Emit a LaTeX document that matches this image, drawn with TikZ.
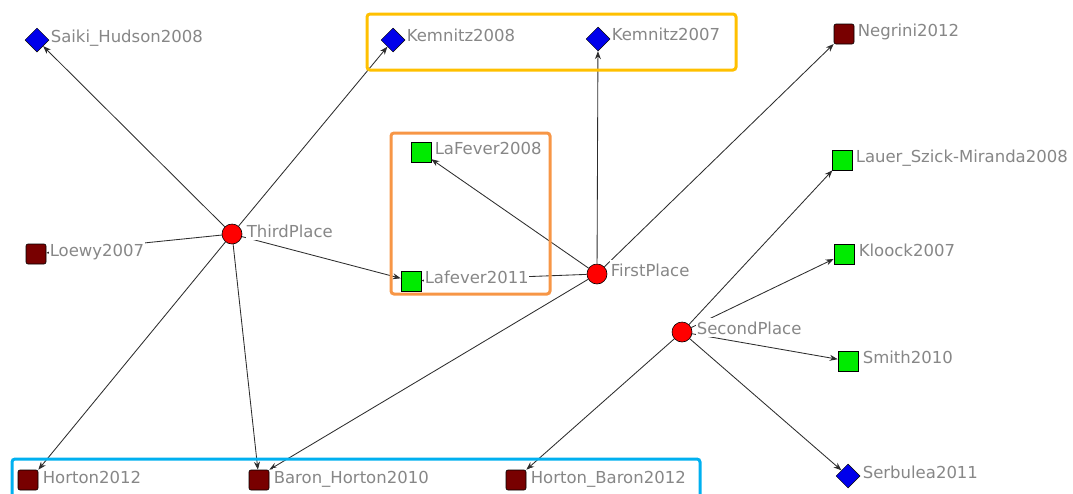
\documentclass[tikz,border=0pt]{standalone}
\usepackage{fontspec}
\setmainfont{DejaVu Sans}
\usetikzlibrary{shapes.geometric,arrows.meta}
\definecolor{lblgray}{RGB}{135,135,135}
\definecolor{dred}{RGB}{120,0,0}
\definecolor{ngreen}{RGB}{0,235,0}
\definecolor{nblue}{RGB}{0,0,235}
\definecolor{nred}{RGB}{255,0,0}
\definecolor{boxY}{RGB}{255,192,0}
\definecolor{boxO}{RGB}{247,150,70}
\definecolor{boxB}{RGB}{0,176,240}
\definecolor{edgec}{RGB}{45,45,45}
\begin{document}
\begin{tikzpicture}[x=1pt,y=-1pt,
 dia/.style={diamond,draw=black,fill=nblue,minimum size=24pt,inner sep=0pt,line width=0.5pt},
 gsq/.style={rectangle,draw=black,fill=ngreen,minimum size=20pt,inner sep=0pt,line width=0.6pt},
 rsq/.style={rectangle,draw=black,fill=dred,minimum size=20pt,inner sep=0pt,rounded corners=2pt,line width=0.6pt},
 hub/.style={circle,draw=black,fill=nred,minimum size=20pt,inner sep=0pt,line width=0.6pt},
 lbl/.style={anchor=base west,fill=white,inner xsep=0.6pt,inner ysep=3pt,text=lblgray,font=\fontsize{16.5}{18}\selectfont},
 edge/.style={draw=edgec,line width=0.85pt,-{Stealth[length=8pt,width=6pt]}},
 hl/.style={line width=3pt,rounded corners=3pt}]
\useasboundingbox (0,0) rectangle (1073,493);
\clip (0,0) rectangle (1073,493);
% shape nodes
\node[dia] (saiki) at (37,40) {};
\node[dia] (kem8) at (393,40) {};
\node[dia] (kem7) at (598,39) {};
\node[rsq] (negrini) at (844,34) {};
\node[gsq] (lafe8) at (421,152) {};
\node[gsq] (lafe11) at (411,281) {};
\node[hub] (third) at (232,234) {};
\node[rsq] (loewy) at (36,254) {};
\node[hub] (first) at (597,274) {};
\node[gsq] (lauer) at (842,160) {};
\node[gsq] (klock) at (844,254) {};
\node[hub] (second) at (682,332) {};
\node[gsq] (smith) at (848,361) {};
\node[dia] (serb) at (848,476) {};
\node[rsq] (horton12) at (28,480) {};
\node[rsq] (baron10) at (259,480) {};
\node[rsq] (hortonb12) at (516,480) {};
% edges
\draw[edge] (third) -- (saiki);
\draw[edge] (third) -- (kem8);
\draw[edge] (third) -- (loewy);
\draw[edge] (third) -- (lafe11);
\draw[edge] (third) -- (baron10);
\draw[edge] (third) -- (horton12.north east);
\draw[edge] (first) -- (kem7);
\draw[edge] (first) -- (lafe8);
\draw[edge] (first) -- (lafe11);
\draw[edge] (first) -- (negrini);
\draw[edge] (first) -- (baron10.north east);
\draw[edge] (second) -- (lauer);
\draw[edge] (second) -- (klock);
\draw[edge] (second) -- (smith);
\draw[edge] (second) -- (serb);
\draw[edge] (second) -- (hortonb12.north east);
% labels
\node[lbl] (tsaiki) at (50,42) {Saiki\_Hudson2008};
\node[lbl] (tkem8) at (406,41) {Kemnitz2008};
\node[lbl] (tkem7) at (611,40) {Kemnitz2007};
\node[lbl] (tnegrini) at (857,36) {Negrini2012};
\node[lbl] (tlafe8) at (434,154) {LaFever2008};
\node[lbl] (tlafe11) at (424,283) {Lafever2011};
\node[lbl] (tthird) at (246,237) {ThirdPlace};
\node[lbl] (tloewy) at (49,256) {Loewy2007};
\node[lbl] (tfirst) at (610,276) {FirstPlace};
\node[lbl] (tlauer) at (855,162) {Lauer\_Szick-Miranda2008};
\node[lbl] (tklock) at (858,256) {Kloock2007};
\node[lbl] (tsecond) at (696,334) {SecondPlace};
\node[lbl] (tsmith) at (862,363) {Smith2010};
\node[lbl] (tserb) at (862,478) {Serbulea2011};
\node[lbl] (thorton12) at (42,483) {Horton2012};
\node[lbl] (tbaron10) at (273,483) {Baron\_Horton2010};
\node[lbl] (thortonb12) at (530,483) {Horton\_Baron2012};
% highlight boxes
\draw[hl,draw=boxY] (367,14) rectangle (736,70);
\draw[hl,draw=boxO] (391,133) rectangle (550,294);
\draw[hl,draw=boxB] (12,459) rectangle (700,510);
\end{tikzpicture}
\end{document}
